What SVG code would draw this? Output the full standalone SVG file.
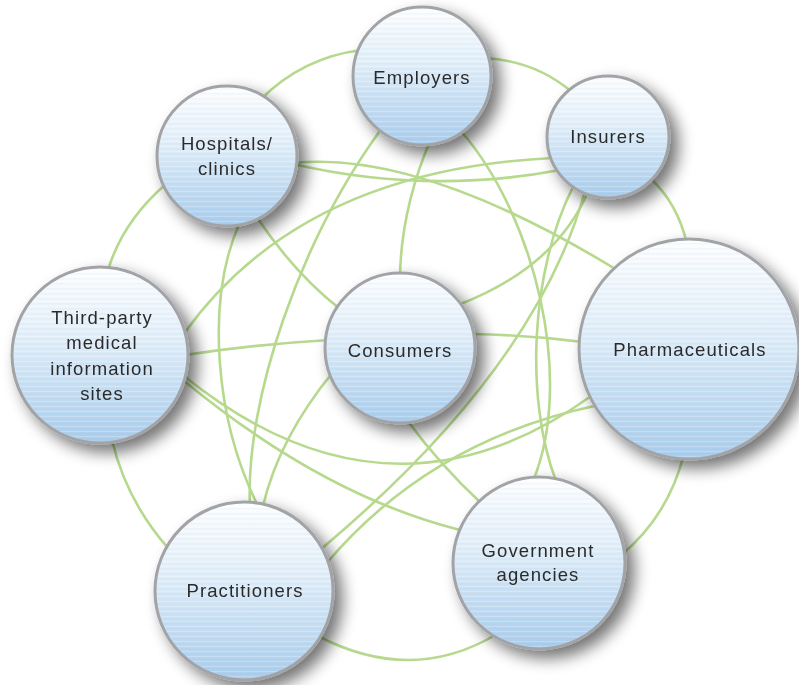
<svg xmlns="http://www.w3.org/2000/svg" width="799" height="685" viewBox="0 0 799 685">
<defs>
<linearGradient id="bg" x1="0" y1="0" x2="0" y2="1">
<stop offset="0" stop-color="#fdfeff"/>
<stop offset="0.4" stop-color="#e2eff9"/>
<stop offset="1" stop-color="#aacdec"/>
</linearGradient>
<pattern id="st" width="10" height="5" patternUnits="userSpaceOnUse">
<rect y="1" width="10" height="1" fill="#ffffff" opacity="0.22"/>
<rect y="3.5" width="10" height="0.7" fill="#7fa9cf" opacity="0.12"/>
</pattern>
<filter id="sh" x="-30%" y="-30%" width="170%" height="170%">
<feGaussianBlur in="SourceAlpha" stdDeviation="8"/>
<feOffset dx="8" dy="8"/>
<feComponentTransfer><feFuncA type="linear" slope="0.55"/></feComponentTransfer>
<feMerge><feMergeNode/><feMergeNode in="SourceGraphic"/></feMerge>
</filter>
</defs>
<style>
.c{fill:none;stroke:#b6d98d;stroke-width:2.6;stroke-linecap:round}
.n{fill:url(#bg);stroke:#a2a3a6;stroke-width:3}
.t{fill:url(#st)}
.l{font-family:"Liberation Sans",Arial,sans-serif;font-size:18.5px;letter-spacing:1.1px;fill:#2b2b2b;text-anchor:middle}
</style>
<rect width="799" height="685" fill="#ffffff"/>
<g id="connectors">
<path class="c" d="M260,100 Q303,57 362,50"/>
<path class="c" d="M485,58 Q535.5,61 572,92"/>
<path class="c" d="M650,178 Q677.5,203 687,244"/>
<path class="c" d="M684,454 Q668,517 620,556"/>
<path class="c" d="M497,634 Q412,685 318,636"/>
<path class="c" d="M168,548 Q126,500 112,440"/>
<path class="c" d="M108,270 Q123,221 166,184"/>
<path class="c" d="M293,164 Q427.5,195 560,170"/>
<path class="c" d="M293,163 Q420,150 617,270"/>
<path class="c" d="M183,335 Q300,170 553,158"/>
<path class="c" d="M240,222 C205,300 215,420 258,506"/>
<path class="c" d="M382,128 C300,240 245,400 250,506"/>
<path class="c" d="M256,216 Q294,273 340,309"/>
<path class="c" d="M430,141 Q401,210 400,277"/>
<path class="c" d="M460,130 C535,215 575,380 533,481"/>
<path class="c" d="M574,185 C530,270 525,400 556,481"/>
<path class="c" d="M588,192 Q555,268 458,305"/>
<path class="c" d="M585,191 C555,300 475,420 320,550"/>
<path class="c" d="M325,565 Q430,440 599,405"/>
<path class="c" d="M184,376 Q390,542 594,394"/>
<path class="c" d="M183,380 Q322,495 460,530"/>
<path class="c" d="M185,355 Q258,344 330,340"/>
<path class="c" d="M471,334 Q528,335 583,342"/>
<path class="c" d="M407,420 Q440,465 481,503"/>
<path class="c" d="M333,372 Q279,438 263,506"/>
</g>
<g id="employers" filter="url(#sh)">
<circle class="n" cx="422" cy="76" r="69"/><circle class="t" cx="422" cy="76" r="67"/>
<text class="l" x="422" y="84">Employers</text>
</g>
<g id="insurers" filter="url(#sh)">
<circle class="n" cx="608" cy="137" r="61"/><circle class="t" cx="608" cy="137" r="59"/>
<text class="l" x="608" y="143">Insurers</text>
</g>
<g id="hospitals" filter="url(#sh)">
<circle class="n" cx="227" cy="156" r="70"/><circle class="t" cx="227" cy="156" r="68"/>
<text class="l" x="227" y="150">Hospitals/</text>
<text class="l" x="227" y="175">clinics</text>
</g>
<g id="third-party" filter="url(#sh)">
<circle class="n" cx="100" cy="355" r="88"/><circle class="t" cx="100" cy="355" r="86"/>
<text class="l" x="102" y="324">Third-party</text>
<text class="l" x="102" y="349">medical</text>
<text class="l" x="102" y="375">information</text>
<text class="l" x="102" y="400">sites</text>
</g>
<g id="consumers" filter="url(#sh)">
<circle class="n" cx="400" cy="348" r="75"/><circle class="t" cx="400" cy="348" r="73"/>
<text class="l" x="400" y="357">Consumers</text>
</g>
<g id="pharmaceuticals" filter="url(#sh)">
<circle class="n" cx="689" cy="349" r="110"/><circle class="t" cx="689" cy="349" r="108"/>
<text class="l" x="690" y="356">Pharmaceuticals</text>
</g>
<g id="practitioners" filter="url(#sh)">
<circle class="n" cx="244" cy="591" r="89"/><circle class="t" cx="244" cy="591" r="87"/>
<text class="l" x="245" y="597">Practitioners</text>
</g>
<g id="government" filter="url(#sh)">
<circle class="n" cx="539" cy="563" r="86"/><circle class="t" cx="539" cy="563" r="84"/>
<text class="l" x="538" y="557">Government</text>
<text class="l" x="538" y="581">agencies</text>
</g>
</svg>
